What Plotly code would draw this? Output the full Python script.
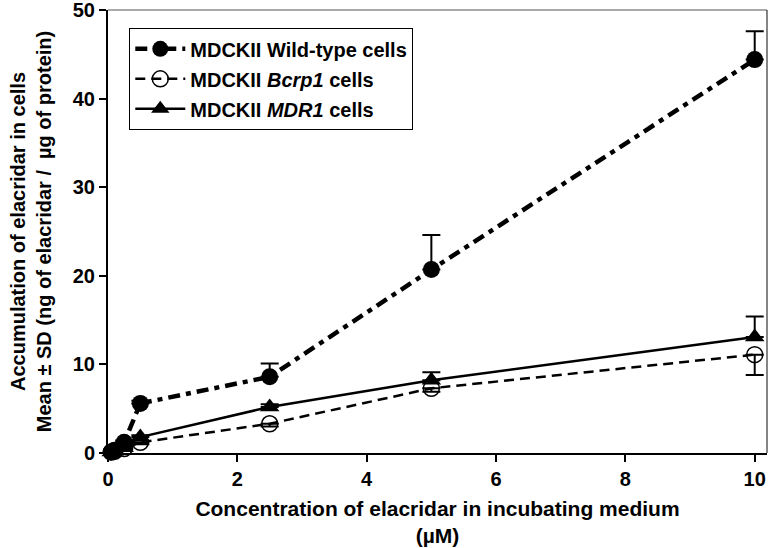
import plotly.graph_objects as go

conc = [0.05, 0.1, 0.25, 0.5, 2.5, 5, 10]

wt_mean = [0.1, 0.3, 1.2, 5.6, 8.6, 20.7, 44.4]
wt_sd = [0.05, 0.1, 0.2, 0.3, 1.5, 3.9, 3.2]

bcrp_mean = [0.1, 0.2, 0.5, 1.2, 3.3, 7.3, 11.1]
bcrp_sd = [0.05, 0.05, 0.1, 0.2, 0.3, 0.4, 2.3]

mdr_mean = [0.1, 0.2, 0.6, 1.8, 5.2, 8.2, 13.1]
mdr_sd = [0.05, 0.05, 0.1, 0.2, 0.3, 0.9, 2.3]

names = ["MDCKII Wild-type cells",
         "MDCKII <i>Bcrp1</i> cells",
         "MDCKII <i>MDR1</i> cells"]

FONT = "Liberation Sans, Arial, sans-serif"
zeros = [0] * len(conc)

fig = go.Figure()

fig.add_trace(go.Scatter(
    x=conc, y=wt_mean, name=names[0], legendgroup="a", mode="lines+markers",
    line=dict(color="black", width=4.5, dash="12px,6px,5px,6px"),
    marker=dict(symbol="circle", size=17, color="black"),
    error_y=dict(type="data", symmetric=False, array=wt_sd, arrayminus=zeros,
                 color="black", thickness=2, width=9),
    cliponaxis=False))

fig.add_trace(go.Scatter(
    x=conc, y=bcrp_mean, name=names[1], legendgroup="b", mode="lines+markers",
    line=dict(color="black", width=2.5, dash="10px,6px"),
    marker=dict(symbol="circle-open", size=16, color="black", line=dict(width=1.5)),
    error_y=dict(type="data", symmetric=False, array=zeros, arrayminus=bcrp_sd,
                 color="black", thickness=2, width=9),
    cliponaxis=False))

fig.add_trace(go.Scatter(
    x=conc, y=mdr_mean, name=names[2], legendgroup="c", mode="lines+markers",
    line=dict(color="black", width=2.5),
    marker=dict(symbol="triangle-up", size=17, color="black"),
    error_y=dict(type="data", symmetric=False, array=mdr_sd, arrayminus=zeros,
                 color="black", thickness=2, width=9),
    cliponaxis=False))

fig.update_layout(
    width=771, height=548,
    margin=dict(l=108, r=4, t=10, b=95),
    paper_bgcolor="white", plot_bgcolor="white",
    font=dict(family=FONT, size=18, color="black", weight="bold"),
    showlegend=True,
    legend=dict(x=0.032, y=0.959, xanchor="left", yanchor="top",
                bordercolor="black", borderwidth=1.2, bgcolor="white",
                font=dict(size=20, family=FONT, weight="bold"), tracegroupgap=1,
                itemwidth=50),
    xaxis=dict(range=[0, 10.19], tickvals=[0, 2, 4, 6, 8, 10],
               ticks="outside", ticklen=7, tickwidth=1.5, tickcolor="black",
               showline=True, linecolor="black", linewidth=2, mirror=False,
               showgrid=False, zeroline=False, automargin=False,
               ticklabeloverflow="allow",
               tickfont=dict(size=20, family=FONT, weight="bold"),
               title=dict(text="Concentration of elacridar in incubating medium<br>(µM)",
                          font=dict(size=21, family=FONT, weight="bold"), standoff=12)),
    yaxis=dict(range=[0, 50], tickvals=[0, 10, 20, 30, 40, 50],
               ticks="outside", ticklen=7, tickwidth=1.5, tickcolor="black",
               showline=True, linecolor="black", linewidth=2, mirror=False,
               showgrid=False, zeroline=False, automargin=False,
               ticklabeloverflow="allow",
               tickfont=dict(size=20, family=FONT, weight="bold"),
               title=dict(text="Accumulation of elacridar in cells<br>Mean ± SD (ng of elacridar /  µg of protein)",
                          font=dict(size=20, family=FONT, weight="bold"), standoff=16)),
)

# Thin box lines (top and right)
fig.add_shape(type="line", xref="paper", yref="paper", x0=0, x1=1, y0=1, y1=1,
              line=dict(color="#555555", width=1.2))
fig.add_shape(type="line", xref="paper", yref="paper", x0=1, x1=1, y0=0, y1=1,
              line=dict(color="#333333", width=1.2))

fig.write_html("out.html", config={"displayModeBar": False},
               post_script="document.body.style.margin='0';document.body.style.overflow='hidden';")
